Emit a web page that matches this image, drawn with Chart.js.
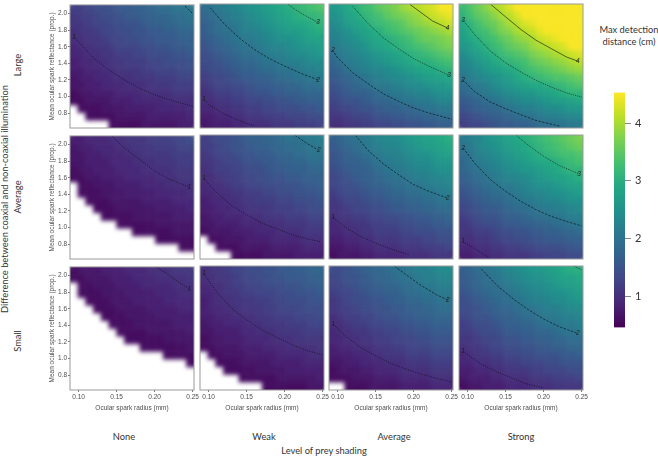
<!DOCTYPE html>
<html>
<head>
<meta charset="utf-8">
<script src="https://cdn.jsdelivr.net/npm/chart.js@4"></script>
<style>
  html, body { margin: 0; padding: 0; background: #fff; }
  body { position: relative; width: 658px; height: 456px; overflow: hidden; }
  canvas { position: absolute; }
  .lbl { position: absolute; font-family: Lato, sans-serif; font-size: 9.3px; color: #333; white-space: nowrap; transform: translate(-50%, -50%); line-height: 1; }
  .rot { transform: translate(-50%, -50%) rotate(-90deg); }
</style>
</head>
<body>
<div class="lbl" style="left:629px;top:30px">Max detection</div>
<div class="lbl" style="left:629px;top:42px">distance (cm)</div>
<div class="lbl rot" style="left:5px;top:199px">Difference between coaxial and non-coaxial illumination</div>
<div class="lbl rot" style="left:18px;top:65px">Large</div>
<div class="lbl rot" style="left:18px;top:197px">Average</div>
<div class="lbl rot" style="left:18px;top:341px">Small</div>
<div class="lbl" style="left:124px;top:437px">None</div>
<div class="lbl" style="left:264px;top:437px">Weak</div>
<div class="lbl" style="left:394px;top:437px">Average</div>
<div class="lbl" style="left:521px;top:437px">Strong</div>
<div class="lbl" style="left:324px;top:451px">Level of prey shading</div>
<script>
// cell centres
const radii = [0.0938,0.104,0.1142,0.1244,0.1346,0.1448,0.155,0.1652,0.1754,0.1856,0.1958,0.206,0.2162,0.2264,0.2366,0.2468];
const reflectances = [2.058,1.965,1.872,1.779,1.687,1.594,1.501,1.408,1.315,1.223,1.13,1.037,0.944,0.851,0.759,0.666];
const xTicks = [0.10,0.15,0.20,0.25];
const yTicks = [0.8,1.0,1.2,1.4,1.6,1.8,2.0];
const barTicks = [1,2,3,4];
const _ = null; // no detection, white

const largeNone = [
[1.2,1.2,1.3,1.4,1.4,1.5,1.6,1.6,1.7,1.7,1.8,1.9,1.9,2,2,2.1],
[1.1,1.2,1.2,1.3,1.4,1.4,1.5,1.6,1.6,1.7,1.7,1.8,1.8,1.9,1.9,2],
[1.1,1.1,1.2,1.3,1.3,1.4,1.4,1.5,1.5,1.6,1.7,1.7,1.8,1.8,1.9,1.9],
[1,1.1,1.1,1.2,1.3,1.3,1.4,1.4,1.5,1.5,1.6,1.6,1.7,1.7,1.8,1.8],
[1,1,1.1,1.1,1.2,1.3,1.3,1.4,1.4,1.5,1.5,1.6,1.6,1.6,1.7,1.7],
[0.9,1,1,1.1,1.1,1.2,1.3,1.3,1.3,1.4,1.4,1.5,1.5,1.6,1.6,1.7],
[0.9,0.9,1,1,1.1,1.1,1.2,1.2,1.3,1.3,1.4,1.4,1.4,1.5,1.5,1.6],
[0.8,0.9,0.9,1,1,1.1,1.1,1.2,1.2,1.2,1.3,1.3,1.4,1.4,1.4,1.5],
[0.8,0.8,0.9,0.9,1,1,1.1,1.1,1.1,1.2,1.2,1.3,1.3,1.3,1.4,1.4],
[0.7,0.8,0.8,0.9,0.9,1,1,1,1.1,1.1,1.1,1.2,1.2,1.2,1.3,1.3],
[0.7,0.7,0.8,0.8,0.9,0.9,0.9,1,1,1,1.1,1.1,1.1,1.2,1.2,1.2],
[0.6,0.7,0.7,0.8,0.8,0.8,0.9,0.9,0.9,1,1,1,1,1.1,1.1,1.1],
[0.6,0.6,0.7,0.7,0.7,0.8,0.8,0.8,0.9,0.9,0.9,0.9,1,1,1,1],
[_,0.6,0.6,0.6,0.7,0.7,0.7,0.8,0.8,0.8,0.8,0.9,0.9,0.9,0.9,1],
[_,_,0.6,0.6,0.6,0.6,0.7,0.7,0.7,0.7,0.8,0.8,0.8,0.8,0.8,0.9],
[_,_,_,_,_,0.6,0.6,0.6,0.6,0.7,0.7,0.7,0.7,0.7,0.8,0.8]];

const largeWeak = [
[1.9,2,2.1,2.2,2.3,2.4,2.5,2.6,2.7,2.8,2.9,3,3.1,3.2,3.3,3.4],
[1.8,1.9,2,2.1,2.2,2.3,2.4,2.5,2.6,2.7,2.8,2.9,3,3.1,3.1,3.2],
[1.7,1.8,1.9,2,2.1,2.2,2.3,2.4,2.5,2.6,2.7,2.8,2.9,2.9,3,3.1],
[1.7,1.8,1.9,2,2,2.2,2.2,2.3,2.4,2.5,2.6,2.7,2.7,2.8,2.9,3],
[1.6,1.7,1.8,1.9,2,2.1,2.1,2.2,2.3,2.4,2.5,2.5,2.6,2.7,2.8,2.8],
[1.5,1.6,1.7,1.8,1.9,2,2,2.1,2.2,2.3,2.3,2.4,2.5,2.6,2.6,2.7],
[1.4,1.5,1.6,1.7,1.8,1.9,1.9,2,2.1,2.2,2.2,2.3,2.4,2.4,2.5,2.6],
[1.4,1.4,1.5,1.6,1.7,1.8,1.8,1.9,2,2,2.1,2.2,2.2,2.3,2.4,2.4],
[1.3,1.4,1.4,1.5,1.6,1.7,1.7,1.8,1.9,1.9,2,2,2.1,2.2,2.2,2.3],
[1.2,1.3,1.3,1.4,1.5,1.6,1.6,1.7,1.7,1.8,1.9,1.9,2,2,2.1,2.1],
[1.1,1.2,1.3,1.3,1.4,1.4,1.5,1.6,1.6,1.7,1.7,1.8,1.8,1.9,1.9,2],
[1,1.1,1.2,1.2,1.3,1.3,1.4,1.5,1.5,1.6,1.6,1.7,1.7,1.8,1.8,1.8],
[1,1,1.1,1.1,1.2,1.2,1.3,1.3,1.4,1.4,1.5,1.5,1.6,1.6,1.7,1.7],
[0.9,0.9,1,1,1.1,1.1,1.2,1.2,1.3,1.3,1.4,1.4,1.4,1.5,1.5,1.6],
[0.8,0.8,0.9,0.9,1,1,1.1,1.1,1.2,1.2,1.2,1.3,1.3,1.3,1.4,1.4],
[0.7,0.8,0.8,0.8,0.9,0.9,1,1,1,1.1,1.1,1.1,1.2,1.2,1.2,1.3]];

const largeAverage = [
[2.6,2.7,2.9,3,3.2,3.3,3.5,3.6,3.7,3.9,4,4.1,4.2,4.3,4.5,4.5],
[2.5,2.6,2.8,2.9,3.1,3.2,3.3,3.5,3.6,3.7,3.8,3.9,4.1,4.2,4.3,4.4],
[2.4,2.5,2.7,2.8,2.9,3.1,3.2,3.3,3.4,3.5,3.7,3.8,3.9,4,4.1,4.2],
[2.3,2.4,2.5,2.7,2.8,2.9,3,3.2,3.3,3.4,3.5,3.6,3.7,3.8,3.9,4],
[2.2,2.3,2.4,2.5,2.7,2.8,2.9,3,3.1,3.2,3.3,3.5,3.6,3.6,3.7,3.8],
[2.1,2.2,2.3,2.4,2.5,2.7,2.8,2.9,3,3.1,3.2,3.3,3.4,3.5,3.6,3.7],
[1.9,2.1,2.2,2.3,2.4,2.5,2.6,2.7,2.8,2.9,3,3.1,3.2,3.3,3.4,3.5],
[1.8,2,2.1,2.2,2.3,2.4,2.5,2.6,2.7,2.8,2.9,3,3,3.1,3.2,3.3],
[1.7,1.8,2,2.1,2.2,2.3,2.3,2.4,2.5,2.6,2.7,2.8,2.9,2.9,3,3.1],
[1.6,1.7,1.8,1.9,2,2.1,2.2,2.3,2.4,2.4,2.5,2.6,2.7,2.8,2.8,2.9],
[1.5,1.6,1.7,1.8,1.9,2,2.1,2.1,2.2,2.3,2.4,2.4,2.5,2.6,2.6,2.7],
[1.4,1.5,1.6,1.7,1.7,1.8,1.9,2,2.1,2.1,2.2,2.3,2.3,2.4,2.5,2.5],
[1.3,1.4,1.5,1.5,1.6,1.7,1.8,1.8,1.9,2,2,2.1,2.1,2.2,2.3,2.3],
[1.2,1.3,1.3,1.4,1.5,1.5,1.6,1.7,1.7,1.8,1.8,1.9,2,2,2.1,2.1],
[1.1,1.1,1.2,1.3,1.3,1.4,1.5,1.5,1.6,1.6,1.7,1.7,1.8,1.8,1.9,1.9],
[1,1,1.1,1.1,1.2,1.2,1.3,1.3,1.4,1.4,1.5,1.5,1.6,1.6,1.7,1.7]];

const largeStrong = [
[3.2,3.4,3.6,3.8,4,4.1,4.3,4.5,4.5,4.5,4.5,4.5,4.5,4.5,4.5,4.5],
[3.1,3.3,3.5,3.6,3.8,4,4.1,4.3,4.5,4.5,4.5,4.5,4.5,4.5,4.5,4.5],
[2.9,3.1,3.3,3.5,3.6,3.8,4,4.1,4.3,4.4,4.5,4.5,4.5,4.5,4.5,4.5],
[2.8,3,3.2,3.3,3.5,3.7,3.8,4,4.1,4.2,4.4,4.5,4.5,4.5,4.5,4.5],
[2.7,2.9,3,3.2,3.3,3.5,3.6,3.8,3.9,4,4.2,4.3,4.4,4.5,4.5,4.5],
[2.6,2.7,2.9,3,3.2,3.3,3.5,3.6,3.7,3.9,4,4.1,4.2,4.3,4.5,4.5],
[2.4,2.6,2.7,2.9,3,3.2,3.3,3.4,3.5,3.7,3.8,3.9,4,4.1,4.2,4.3],
[2.3,2.4,2.6,2.7,2.9,3,3.1,3.2,3.3,3.5,3.6,3.7,3.8,3.9,4,4.1],
[2.2,2.3,2.4,2.6,2.7,2.8,2.9,3,3.2,3.3,3.4,3.5,3.6,3.7,3.8,3.9],
[2,2.2,2.3,2.4,2.5,2.6,2.7,2.9,3,3.1,3.2,3.3,3.4,3.4,3.5,3.6],
[1.9,2,2.1,2.2,2.4,2.5,2.6,2.7,2.8,2.9,2.9,3,3.1,3.2,3.3,3.4],
[1.8,1.9,2,2.1,2.2,2.3,2.4,2.5,2.6,2.6,2.7,2.8,2.9,3,3.1,3.1],
[1.6,1.7,1.8,1.9,2,2.1,2.2,2.3,2.4,2.4,2.5,2.6,2.7,2.7,2.8,2.9],
[1.5,1.6,1.7,1.8,1.8,1.9,2,2.1,2.2,2.2,2.3,2.4,2.4,2.5,2.6,2.6],
[1.3,1.4,1.5,1.6,1.7,1.7,1.8,1.9,2,2,2.1,2.2,2.2,2.3,2.3,2.4],
[1.2,1.3,1.3,1.4,1.5,1.6,1.6,1.7,1.7,1.8,1.9,1.9,2,2,2.1,2.1]];

const averageNone = [
[0.8,0.8,0.9,0.9,0.9,1,1,1.1,1.1,1.1,1.2,1.2,1.2,1.3,1.3,1.4],
[0.7,0.8,0.8,0.9,0.9,0.9,1,1,1.1,1.1,1.1,1.2,1.2,1.2,1.3,1.3],
[0.7,0.7,0.8,0.8,0.9,0.9,0.9,1,1,1.1,1.1,1.1,1.1,1.2,1.2,1.2],
[0.7,0.7,0.8,0.8,0.8,0.9,0.9,0.9,1,1,1,1.1,1.1,1.1,1.2,1.2],
[0.6,0.7,0.7,0.8,0.8,0.8,0.9,0.9,0.9,1,1,1,1,1.1,1.1,1.1],
[0.6,0.6,0.7,0.7,0.8,0.8,0.8,0.9,0.9,0.9,0.9,1,1,1,1.1,1.1],
[_,0.6,0.6,0.7,0.7,0.7,0.8,0.8,0.8,0.9,0.9,0.9,1,1,1,1],
[_,0.6,0.6,0.6,0.7,0.7,0.7,0.8,0.8,0.8,0.8,0.9,0.9,0.9,0.9,1],
[_,_,0.6,0.6,0.6,0.7,0.7,0.7,0.7,0.8,0.8,0.8,0.8,0.9,0.9,0.9],
[_,_,_,0.6,0.6,0.6,0.7,0.7,0.7,0.7,0.7,0.8,0.8,0.8,0.8,0.9],
[_,_,_,_,0.6,0.6,0.6,0.6,0.7,0.7,0.7,0.7,0.7,0.8,0.8,0.8],
[_,_,_,_,_,_,0.6,0.6,0.6,0.6,0.6,0.7,0.7,0.7,0.7,0.7],
[_,_,_,_,_,_,_,_,0.6,0.6,0.6,0.6,0.6,0.7,0.7,0.7],
[_,_,_,_,_,_,_,_,_,_,_,0.6,0.6,0.6,0.6,0.6],
[_,_,_,_,_,_,_,_,_,_,_,_,_,_,0.6,0.6],
[_,_,_,_,_,_,_,_,_,_,_,_,_,_,_,_]];

const averageWeak = [
[1.2,1.3,1.4,1.4,1.5,1.6,1.7,1.7,1.8,1.8,1.9,2,2,2.1,2.1,2.2],
[1.2,1.2,1.3,1.4,1.5,1.5,1.6,1.7,1.7,1.8,1.8,1.9,1.9,2,2,2.1],
[1.1,1.2,1.3,1.3,1.4,1.5,1.5,1.6,1.6,1.7,1.8,1.8,1.9,1.9,2,2],
[1.1,1.1,1.2,1.3,1.3,1.4,1.5,1.5,1.6,1.6,1.7,1.7,1.8,1.8,1.9,1.9],
[1,1.1,1.2,1.2,1.3,1.3,1.4,1.4,1.5,1.6,1.6,1.7,1.7,1.7,1.8,1.8],
[1,1,1.1,1.2,1.2,1.3,1.3,1.4,1.4,1.5,1.5,1.6,1.6,1.7,1.7,1.7],
[0.9,1,1,1.1,1.2,1.2,1.3,1.3,1.4,1.4,1.4,1.5,1.5,1.6,1.6,1.7],
[0.9,0.9,1,1,1.1,1.1,1.2,1.2,1.3,1.3,1.4,1.4,1.5,1.5,1.5,1.6],
[0.8,0.9,0.9,1,1,1.1,1.1,1.2,1.2,1.2,1.3,1.3,1.4,1.4,1.4,1.5],
[0.8,0.8,0.9,0.9,1,1,1.1,1.1,1.1,1.2,1.2,1.2,1.3,1.3,1.4,1.4],
[0.7,0.8,0.8,0.9,0.9,0.9,1,1,1.1,1.1,1.1,1.2,1.2,1.2,1.3,1.3],
[0.7,0.7,0.8,0.8,0.8,0.9,0.9,0.9,1,1,1,1.1,1.1,1.1,1.2,1.2],
[0.6,0.7,0.7,0.7,0.8,0.8,0.8,0.9,0.9,0.9,1,1,1,1.1,1.1,1.1],
[_,0.6,0.6,0.7,0.7,0.7,0.8,0.8,0.8,0.9,0.9,0.9,0.9,1,1,1],
[_,_,0.6,0.6,0.6,0.7,0.7,0.7,0.7,0.8,0.8,0.8,0.8,0.9,0.9,0.9],
[_,_,_,_,0.6,0.6,0.6,0.6,0.7,0.7,0.7,0.7,0.8,0.8,0.8,0.8]];

const averageAverage = [
[1.7,1.8,1.9,2,2.1,2.2,2.3,2.4,2.4,2.5,2.6,2.7,2.8,2.8,2.9,3],
[1.6,1.7,1.8,1.9,2,2.1,2.2,2.3,2.3,2.4,2.5,2.6,2.7,2.7,2.8,2.9],
[1.5,1.6,1.7,1.8,1.9,2,2.1,2.2,2.2,2.3,2.4,2.5,2.5,2.6,2.7,2.8],
[1.5,1.6,1.7,1.7,1.8,1.9,2,2.1,2.2,2.2,2.3,2.4,2.4,2.5,2.6,2.6],
[1.4,1.5,1.6,1.7,1.7,1.8,1.9,2,2.1,2.1,2.2,2.3,2.3,2.4,2.5,2.5],
[1.3,1.4,1.5,1.6,1.7,1.7,1.8,1.9,2,2,2.1,2.2,2.2,2.3,2.3,2.4],
[1.3,1.4,1.4,1.5,1.6,1.7,1.7,1.8,1.9,1.9,2,2,2.1,2.2,2.2,2.3],
[1.2,1.3,1.4,1.4,1.5,1.6,1.6,1.7,1.8,1.8,1.9,1.9,2,2,2.1,2.2],
[1.1,1.2,1.3,1.3,1.4,1.5,1.5,1.6,1.7,1.7,1.8,1.8,1.9,1.9,2,2],
[1.1,1.1,1.2,1.3,1.3,1.4,1.4,1.5,1.6,1.6,1.7,1.7,1.8,1.8,1.9,1.9],
[1,1.1,1.1,1.2,1.2,1.3,1.3,1.4,1.4,1.5,1.5,1.6,1.6,1.7,1.7,1.8],
[0.9,1,1,1.1,1.1,1.2,1.2,1.3,1.3,1.4,1.4,1.5,1.5,1.6,1.6,1.7],
[0.9,0.9,1,1,1.1,1.1,1.2,1.2,1.2,1.3,1.3,1.4,1.4,1.4,1.5,1.5],
[0.8,0.8,0.9,0.9,1,1,1.1,1.1,1.1,1.2,1.2,1.2,1.3,1.3,1.4,1.4],
[0.7,0.7,0.8,0.8,0.9,0.9,1,1,1,1.1,1.1,1.1,1.2,1.2,1.2,1.3],
[0.6,0.7,0.7,0.7,0.8,0.8,0.9,0.9,0.9,0.9,1,1,1,1.1,1.1,1.1]];

const averageStrong = [
[2.1,2.2,2.3,2.5,2.6,2.7,2.8,2.9,3,3.1,3.2,3.3,3.4,3.5,3.6,3.7],
[2,2.1,2.3,2.4,2.5,2.6,2.7,2.8,2.9,3,3.1,3.2,3.3,3.4,3.5,3.6],
[1.9,2,2.2,2.3,2.4,2.5,2.6,2.7,2.8,2.9,3,3.1,3.2,3.3,3.3,3.4],
[1.8,2,2.1,2.2,2.3,2.4,2.5,2.6,2.7,2.8,2.9,2.9,3,3.1,3.2,3.3],
[1.8,1.9,2,2.1,2.2,2.3,2.4,2.5,2.6,2.6,2.7,2.8,2.9,3,3.1,3.1],
[1.7,1.8,1.9,2,2.1,2.2,2.3,2.3,2.4,2.5,2.6,2.7,2.8,2.8,2.9,3],
[1.6,1.7,1.8,1.9,2,2.1,2.1,2.2,2.3,2.4,2.5,2.5,2.6,2.7,2.8,2.8],
[1.5,1.6,1.7,1.8,1.9,1.9,2,2.1,2.2,2.3,2.3,2.4,2.5,2.5,2.6,2.7],
[1.4,1.5,1.6,1.7,1.8,1.8,1.9,2,2.1,2.1,2.2,2.3,2.3,2.4,2.5,2.5],
[1.3,1.4,1.5,1.6,1.6,1.7,1.8,1.9,1.9,2,2.1,2.1,2.2,2.2,2.3,2.4],
[1.2,1.3,1.4,1.5,1.5,1.6,1.7,1.7,1.8,1.9,1.9,2,2,2.1,2.2,2.2],
[1.1,1.2,1.3,1.4,1.4,1.5,1.6,1.6,1.7,1.7,1.8,1.8,1.9,1.9,2,2.1],
[1.1,1.1,1.2,1.2,1.3,1.4,1.4,1.5,1.5,1.6,1.6,1.7,1.7,1.8,1.8,1.9],
[1,1,1.1,1.1,1.2,1.3,1.3,1.4,1.4,1.5,1.5,1.6,1.6,1.6,1.7,1.7],
[0.9,0.9,1,1,1.1,1.1,1.2,1.2,1.3,1.3,1.4,1.4,1.4,1.5,1.5,1.6],
[0.8,0.8,0.9,0.9,1,1,1.1,1.1,1.1,1.2,1.2,1.3,1.3,1.3,1.4,1.4]];

const smallNone = [
[0.6,0.7,0.7,0.7,0.8,0.8,0.8,0.9,0.9,0.9,1,1,1,1.1,1.1,1.1],
[0.6,0.6,0.7,0.7,0.7,0.8,0.8,0.8,0.9,0.9,0.9,1,1,1,1,1.1],
[_,0.6,0.6,0.7,0.7,0.7,0.8,0.8,0.8,0.9,0.9,0.9,0.9,1,1,1],
[_,0.6,0.6,0.6,0.7,0.7,0.7,0.8,0.8,0.8,0.8,0.9,0.9,0.9,1,1],
[_,_,0.6,0.6,0.6,0.7,0.7,0.7,0.8,0.8,0.8,0.8,0.9,0.9,0.9,0.9],
[_,_,_,0.6,0.6,0.6,0.7,0.7,0.7,0.7,0.8,0.8,0.8,0.8,0.9,0.9],
[_,_,_,_,0.6,0.6,0.6,0.7,0.7,0.7,0.7,0.8,0.8,0.8,0.8,0.8],
[_,_,_,_,_,0.6,0.6,0.6,0.7,0.7,0.7,0.7,0.7,0.8,0.8,0.8],
[_,_,_,_,_,_,0.6,0.6,0.6,0.6,0.7,0.7,0.7,0.7,0.7,0.8],
[_,_,_,_,_,_,_,0.6,0.6,0.6,0.6,0.6,0.7,0.7,0.7,0.7],
[_,_,_,_,_,_,_,_,_,0.6,0.6,0.6,0.6,0.6,0.6,0.7],
[_,_,_,_,_,_,_,_,_,_,_,_,0.6,0.6,0.6,0.6],
[_,_,_,_,_,_,_,_,_,_,_,_,_,_,_,0.6],
[_,_,_,_,_,_,_,_,_,_,_,_,_,_,_,_],
[_,_,_,_,_,_,_,_,_,_,_,_,_,_,_,_],
[_,_,_,_,_,_,_,_,_,_,_,_,_,_,_,_]];

const smallWeak = [
[1,1.1,1.1,1.2,1.3,1.3,1.4,1.4,1.5,1.5,1.6,1.6,1.7,1.7,1.8,1.8],
[1,1,1.1,1.1,1.2,1.3,1.3,1.4,1.4,1.5,1.5,1.6,1.6,1.6,1.7,1.7],
[0.9,1,1,1.1,1.2,1.2,1.3,1.3,1.4,1.4,1.4,1.5,1.5,1.6,1.6,1.7],
[0.9,0.9,1,1.1,1.1,1.2,1.2,1.3,1.3,1.3,1.4,1.4,1.5,1.5,1.5,1.6],
[0.8,0.9,1,1,1.1,1.1,1.1,1.2,1.2,1.3,1.3,1.4,1.4,1.4,1.5,1.5],
[0.8,0.9,0.9,1,1,1.1,1.1,1.1,1.2,1.2,1.3,1.3,1.3,1.4,1.4,1.4],
[0.8,0.8,0.9,0.9,1,1,1,1.1,1.1,1.2,1.2,1.2,1.3,1.3,1.3,1.4],
[0.7,0.8,0.8,0.9,0.9,0.9,1,1,1.1,1.1,1.1,1.2,1.2,1.2,1.3,1.3],
[0.7,0.7,0.8,0.8,0.8,0.9,0.9,1,1,1,1.1,1.1,1.1,1.2,1.2,1.2],
[0.6,0.7,0.7,0.8,0.8,0.8,0.9,0.9,0.9,1,1,1,1.1,1.1,1.1,1.1],
[0.6,0.6,0.7,0.7,0.7,0.8,0.8,0.8,0.9,0.9,0.9,1,1,1,1,1.1],
[_,0.6,0.6,0.7,0.7,0.7,0.8,0.8,0.8,0.8,0.9,0.9,0.9,0.9,1,1],
[_,_,0.6,0.6,0.6,0.7,0.7,0.7,0.7,0.8,0.8,0.8,0.8,0.9,0.9,0.9],
[_,_,_,0.6,0.6,0.6,0.6,0.7,0.7,0.7,0.7,0.8,0.8,0.8,0.8,0.8],
[_,_,_,_,_,0.6,0.6,0.6,0.6,0.6,0.7,0.7,0.7,0.7,0.7,0.8],
[_,_,_,_,_,_,_,_,0.6,0.6,0.6,0.6,0.6,0.6,0.7,0.7]];

const smallAverage = [
[1.4,1.4,1.5,1.6,1.7,1.8,1.8,1.9,2,2,2.1,2.2,2.2,2.3,2.4,2.4],
[1.3,1.4,1.5,1.5,1.6,1.7,1.8,1.8,1.9,2,2,2.1,2.2,2.2,2.3,2.3],
[1.3,1.3,1.4,1.5,1.6,1.6,1.7,1.8,1.8,1.9,1.9,2,2.1,2.1,2.2,2.2],
[1.2,1.3,1.3,1.4,1.5,1.6,1.6,1.7,1.7,1.8,1.9,1.9,2,2,2.1,2.1],
[1.1,1.2,1.3,1.4,1.4,1.5,1.5,1.6,1.7,1.7,1.8,1.8,1.9,1.9,2,2],
[1.1,1.2,1.2,1.3,1.4,1.4,1.5,1.5,1.6,1.6,1.7,1.7,1.8,1.8,1.9,1.9],
[1,1.1,1.2,1.2,1.3,1.3,1.4,1.5,1.5,1.6,1.6,1.7,1.7,1.8,1.8,1.8],
[1,1,1.1,1.2,1.2,1.3,1.3,1.4,1.4,1.5,1.5,1.6,1.6,1.7,1.7,1.7],
[0.9,1,1,1.1,1.1,1.2,1.2,1.3,1.3,1.4,1.4,1.5,1.5,1.6,1.6,1.6],
[0.9,0.9,1,1,1.1,1.1,1.2,1.2,1.3,1.3,1.3,1.4,1.4,1.5,1.5,1.5],
[0.8,0.9,0.9,1,1,1,1.1,1.1,1.2,1.2,1.3,1.3,1.3,1.4,1.4,1.4],
[0.8,0.8,0.8,0.9,0.9,1,1,1.1,1.1,1.1,1.2,1.2,1.2,1.3,1.3,1.3],
[0.7,0.7,0.8,0.8,0.9,0.9,0.9,1,1,1,1.1,1.1,1.1,1.2,1.2,1.2],
[0.6,0.7,0.7,0.7,0.8,0.8,0.9,0.9,0.9,1,1,1,1,1.1,1.1,1.1],
[0.6,0.6,0.6,0.7,0.7,0.7,0.8,0.8,0.8,0.9,0.9,0.9,0.9,1,1,1],
[_,_,0.6,0.6,0.6,0.7,0.7,0.7,0.7,0.8,0.8,0.8,0.8,0.9,0.9,0.9]];

const smallStrong = [
[1.7,1.8,1.9,2,2.1,2.2,2.3,2.4,2.5,2.6,2.6,2.7,2.8,2.9,3,3],
[1.6,1.7,1.8,1.9,2,2.1,2.2,2.3,2.4,2.5,2.5,2.6,2.7,2.8,2.8,2.9],
[1.6,1.7,1.8,1.9,1.9,2,2.1,2.2,2.3,2.4,2.4,2.5,2.6,2.7,2.7,2.8],
[1.5,1.6,1.7,1.8,1.9,1.9,2,2.1,2.2,2.3,2.3,2.4,2.5,2.5,2.6,2.7],
[1.4,1.5,1.6,1.7,1.8,1.9,1.9,2,2.1,2.2,2.2,2.3,2.4,2.4,2.5,2.6],
[1.4,1.4,1.5,1.6,1.7,1.8,1.8,1.9,2,2,2.1,2.2,2.2,2.3,2.4,2.4],
[1.3,1.4,1.5,1.5,1.6,1.7,1.7,1.8,1.9,1.9,2,2.1,2.1,2.2,2.2,2.3],
[1.2,1.3,1.4,1.4,1.5,1.6,1.7,1.7,1.8,1.8,1.9,2,2,2.1,2.1,2.2],
[1.2,1.2,1.3,1.4,1.4,1.5,1.6,1.6,1.7,1.7,1.8,1.8,1.9,2,2,2.1],
[1.1,1.1,1.2,1.3,1.3,1.4,1.5,1.5,1.6,1.6,1.7,1.7,1.8,1.8,1.9,1.9],
[1,1.1,1.1,1.2,1.3,1.3,1.4,1.4,1.5,1.5,1.6,1.6,1.7,1.7,1.8,1.8],
[0.9,1,1.1,1.1,1.2,1.2,1.3,1.3,1.4,1.4,1.5,1.5,1.5,1.6,1.6,1.7],
[0.9,0.9,1,1,1.1,1.1,1.2,1.2,1.3,1.3,1.3,1.4,1.4,1.5,1.5,1.5],
[0.8,0.8,0.9,0.9,1,1,1.1,1.1,1.1,1.2,1.2,1.3,1.3,1.3,1.4,1.4],
[0.7,0.8,0.8,0.8,0.9,0.9,1,1,1,1.1,1.1,1.1,1.2,1.2,1.2,1.3],
[0.6,0.7,0.7,0.8,0.8,0.8,0.9,0.9,0.9,1,1,1,1.1,1.1,1.1,1.1]];

// contour lines as [level, [radius, reflectance], ...]
const largeNoneLines = [
 [1,[0.094,1.72],[0.1,1.66],[0.12,1.46],[0.14,1.32],[0.16,1.2],[0.18,1.1],[0.2,1.02],[0.22,0.96],[0.25,0.88]],
 [2,[0.24,2.09],[0.25,2.0]]];
const largeWeakLines = [
 [1,[0.093,0.97],[0.1,0.9],[0.12,0.79],[0.14,0.71],[0.16,0.645]],
 [2,[0.102,2.06],[0.12,1.87],[0.14,1.7],[0.16,1.56],[0.18,1.45],[0.2,1.36],[0.22,1.28],[0.244,1.195]],
 [3,[0.2045,2.1],[0.215,2.03],[0.23,1.95],[0.244,1.884]]];
const largeAverageLines = [
 [2,[0.093,1.556],[0.1,1.46],[0.12,1.28],[0.14,1.15],[0.16,1.03],[0.18,0.94],[0.2,0.86],[0.22,0.8],[0.25,0.725]],
 [3,[0.12,2.075],[0.14,1.87],[0.16,1.7],[0.18,1.57],[0.2,1.45],[0.22,1.36],[0.247,1.25]],
 [4,[0.195,2.1],[0.21,2.0],[0.225,1.9],[0.2448,1.816]]];
const largeStrongLines = [
 [2,[0.0936,1.195],[0.11,1.05],[0.13,0.93],[0.15,0.85],[0.17,0.78],[0.19,0.71],[0.2222,0.64]],
 [3,[0.0936,1.915],[0.11,1.73],[0.13,1.54],[0.15,1.4],[0.17,1.29],[0.19,1.19],[0.21,1.11],[0.23,1.04],[0.25,0.99]],
 [4,[0.1304,2.1],[0.15,1.95],[0.17,1.8],[0.19,1.67],[0.21,1.57],[0.23,1.47],[0.2449,1.42]]];
const averageNoneLines = [
 [1,[0.144,2.1],[0.16,1.96],[0.18,1.82],[0.2,1.68],[0.22,1.58],[0.2455,1.487]]];
const averageWeakLines = [
 [1,[0.0934,1.588],[0.11,1.42],[0.13,1.26],[0.15,1.15],[0.17,1.05],[0.19,0.98],[0.21,0.91],[0.23,0.86],[0.2466,0.828]],
 [2,[0.2136,2.1],[0.23,2.0],[0.245,1.92]]];
const averageAverageLines = [
 [1,[0.094,1.12],[0.11,1.0],[0.13,0.89],[0.15,0.81],[0.17,0.74],[0.195,0.668]],
 [2,[0.1234,2.1],[0.14,1.92],[0.16,1.76],[0.18,1.63],[0.2,1.51],[0.22,1.43],[0.245,1.348]]];
const averageStrongLines = [
 [1,[0.094,0.828],[0.11,0.74],[0.129,0.63]],
 [2,[0.094,1.948],[0.11,1.76],[0.13,1.57],[0.15,1.43],[0.17,1.31],[0.19,1.21],[0.21,1.13],[0.23,1.07],[0.25,1.016]],
 [3,[0.164,2.1],[0.18,1.98],[0.2,1.85],[0.22,1.74],[0.2465,1.64]]];
const smallNoneLines = [
 [1,[0.2022,2.1],[0.215,2.03],[0.23,1.93],[0.2457,1.837]]];
const smallWeakLines = [
 [1,[0.0934,2.016],[0.11,1.8],[0.13,1.6],[0.15,1.46],[0.17,1.34],[0.19,1.25],[0.21,1.16],[0.23,1.09],[0.25,1.04]]];
const smallAverageLines = [
 [1,[0.094,1.41],[0.11,1.27],[0.13,1.13],[0.15,1.03],[0.17,0.94],[0.19,0.87],[0.21,0.81],[0.23,0.76],[0.25,0.716]],
 [2,[0.175,2.1],[0.19,2.0],[0.21,1.87],[0.23,1.76],[0.245,1.697]]];
const smallStrongLines = [
 [1,[0.094,1.08],[0.12,0.92],[0.14,0.83],[0.16,0.76],[0.175,0.7],[0.2,0.645]],
 [2,[0.118,2.07],[0.14,1.86],[0.16,1.71],[0.18,1.58],[0.2,1.47],[0.22,1.38],[0.2449,1.298]],
 [3,[0.24,2.1],[0.25,2.06]]];

const viridis = ['#440154','#482475','#414487','#355f8d','#2a788e','#21918c','#22a884','#44bf70','#7ad151','#bddf26','#fde725'];
const barMin = 0.457, barMax = 4.53;

function hex(c) { return [1,3,5].map(i => parseInt(c.substr(i,2),16)); }
function colorFor(v) {
  let t = (v - barMin) / (barMax - barMin) * 10;
  t = Math.max(0, Math.min(9.999, t));
  const i = Math.floor(t), a = hex(viridis[i]), b = hex(viridis[i+1]), f = t - i;
  return 'rgb(' + a.map((x,k) => Math.round(x + (b[k]-x)*f)).join(',') + ')';
}

const dashes = {1:[1,1.4], 2:[2.4,1.4], 3:[1,1], 4:[]};
const axisFont = {family:'"Liberation Sans", Arial, sans-serif', size:6.5};
const marginL = 22, marginR = 10, marginT = 4, marginB = 22, side = 124;
const softness = 2.2, bleed = 12;

const panelDecor = {
  id:'panelDecor',
  // soften the cell blocks once the library has painted them, before the contours go on top
  afterDatasetDraw(chart, args) {
    if (args.index !== 0) return;
    const c = chart.ctx, a = chart.chartArea, src = chart.canvas;
    const w = a.right - a.left, h = a.bottom - a.top;
    const tmp = document.createElement('canvas');
    tmp.width = w + bleed*2;
    tmp.height = h + bleed*2;
    const t = tmp.getContext('2d');
    t.drawImage(src, a.left, a.top, 1, h, 0, bleed, bleed, h);
    t.drawImage(src, a.right-1, a.top, 1, h, w+bleed, bleed, bleed, h);
    t.drawImage(src, a.left, a.top, w, 1, bleed, 0, w, bleed);
    t.drawImage(src, a.left, a.bottom-1, w, 1, bleed, h+bleed, w, bleed);
    t.drawImage(src, a.left, a.top, w, h, bleed, bleed, w, h);
    c.save();
    c.clearRect(a.left, a.top, w, h);
    c.beginPath();
    c.rect(a.left, a.top, w, h);
    c.clip();
    c.filter = 'blur(' + softness + 'px)';
    c.drawImage(tmp, a.left-bleed, a.top-bleed);
    c.restore();
  },
  // frame round the panel and the small numbers on the contour lines
  afterDatasetsDraw(chart) {
    const c = chart.ctx, a = chart.chartArea;
    c.save();
    c.font = 'italic 6.5px "Liberation Sans", sans-serif';
    c.fillStyle = '#222';
    c.textAlign = 'center';
    c.textBaseline = 'middle';
    chart.data.datasets.forEach(ds => {
      if (!ds.level) return;
      const p = ds.data[0].x < 0.1 ? ds.data[0] : ds.data[ds.data.length-1];
      const x = Math.min(a.right-4, Math.max(a.left+4, chart.scales.x.getPixelForValue(p.x)));
      const y = Math.min(a.bottom-4, Math.max(a.top+4, chart.scales.y.getPixelForValue(p.y)));
      if (ds.data.length > 2) c.fillText(ds.level, x, y);
    });
    c.strokeStyle = '#9a9a9a';
    c.lineWidth = 1;
    c.strokeRect(a.left, a.top, a.right-a.left, a.bottom-a.top);
    c.restore();
  }
};

function drawPanel(values, lines, left, top, showX, showY) {
  const canvas = document.createElement('canvas');
  canvas.width = marginL + side + marginR;
  canvas.height = marginT + side + marginB;
  canvas.style.left = (left - marginL) + 'px';
  canvas.style.top = (top - marginT) + 'px';
  document.body.appendChild(canvas);

  const cells = [];
  values.forEach((row, j) => row.forEach((v, i) => {
    if (v !== null) cells.push({x:radii[i], y:reflectances[j], v:v});
  }));
  const datasets = [{
    data: cells,
    order: 2,
    pointStyle: 'rect',
    pointRadius: 5.8,
    pointBorderWidth: 0,
    pointBackgroundColor: cells.map(d => colorFor(d.v))
  }];
  lines.forEach(l => {
    datasets.push({
      level: l[0],
      data: l.slice(1).map(p => ({x:p[0], y:p[1]})),
      order: 1,
      showLine: true,
      pointRadius: 0,
      borderColor: 'rgba(0,0,0,0.7)',
      borderWidth: 0.8,
      borderDash: dashes[l[0]]
    });
  });

  new Chart(canvas, {
    type: 'scatter',
    data: {datasets: datasets},
    plugins: [panelDecor],
    options: {
      responsive: false,
      animation: false,
      events: [],
      layout: {autoPadding:false, padding:{top:marginT, right:marginR, left:0, bottom:0}},
      plugins: {legend:{display:false}, tooltip:{enabled:false}},
      scales: {
        x: {
          type:'linear', min:0.0887, max:0.2518,
          afterBuildTicks: s => { s.ticks = xTicks.map(v => ({value:v})); },
          afterFit: s => { s.height = marginB; },
          border:{display:false},
          grid:{display:showX, drawOnChartArea:false, tickLength:2, color:'#777'},
          title:{display:showX, text:'Ocular spark radius (mm)', font:axisFont, color:'#4d4d4d', padding:0},
          ticks:{display:showX, font:axisFont, color:'#4d4d4d', padding:1, maxRotation:0, autoSkip:false, callback:v => v.toFixed(2)}
        },
        y: {
          type:'linear', min:0.62, max:2.104,
          afterBuildTicks: s => { s.ticks = yTicks.map(v => ({value:v})); },
          afterFit: s => { s.width = marginL; },
          border:{display:false},
          grid:{display:showY, drawOnChartArea:false, tickLength:2, color:'#777'},
          title:{display:showY, text:'Mean ocular spark reflectance (prop.)', font:axisFont, color:'#4d4d4d', padding:0},
          ticks:{display:showY, font:axisFont, color:'#4d4d4d', padding:1, autoSkip:false, callback:v => v.toFixed(1)}
        }
      }
    }
  });
}

const colLefts = [70,200,329,459];
const rowTops = [4,135,266];
const panelGrid = [
  [[largeNone,largeNoneLines],[largeWeak,largeWeakLines],[largeAverage,largeAverageLines],[largeStrong,largeStrongLines]],
  [[averageNone,averageNoneLines],[averageWeak,averageWeakLines],[averageAverage,averageAverageLines],[averageStrong,averageStrongLines]],
  [[smallNone,smallNoneLines],[smallWeak,smallWeakLines],[smallAverage,smallAverageLines],[smallStrong,smallStrongLines]]
];
panelGrid.forEach((row, r) => row.forEach((p, c) => {
  drawPanel(p[0], p[1], colLefts[c], rowTops[r], r === 2, c === 0);
}));

// colour bar
const barCanvas = document.createElement('canvas');
barCanvas.width = 41;
barCanvas.height = 256;
barCanvas.style.left = '614px';
barCanvas.style.top = '82px';
document.body.appendChild(barCanvas);
new Chart(barCanvas, {
  type: 'bar',
  data: {
    labels: [''],
    datasets: [{
      data: [[barMin, barMax]],
      barPercentage: 1,
      categoryPercentage: 1,
      backgroundColor: ctx => {
        const a = ctx.chart.chartArea;
        if (!a) return '#000';
        const g = ctx.chart.ctx.createLinearGradient(0, a.bottom, 0, a.top);
        viridis.forEach((s, i) => g.addColorStop(i/10, s));
        return g;
      }
    }]
  },
  options: {
    responsive: false,
    animation: false,
    events: [],
    layout: {autoPadding:false, padding:{top:6, bottom:6, left:0, right:0}},
    plugins: {legend:{display:false}, tooltip:{enabled:false}},
    scales: {
      x: {display:false},
      y: {
        position:'right', min:barMin, max:barMax,
        afterBuildTicks: s => { s.ticks = barTicks.map(v => ({value:v})); },
        afterFit: s => { s.width = 30; },
        border:{display:false},
        grid:{drawOnChartArea:false, tickLength:6, color:'#888'},
        ticks:{font:{family:'Lato, sans-serif', size:11}, color:'#333', padding:4, autoSkip:false}
      }
    }
  }
});
</script>
</body>
</html>
